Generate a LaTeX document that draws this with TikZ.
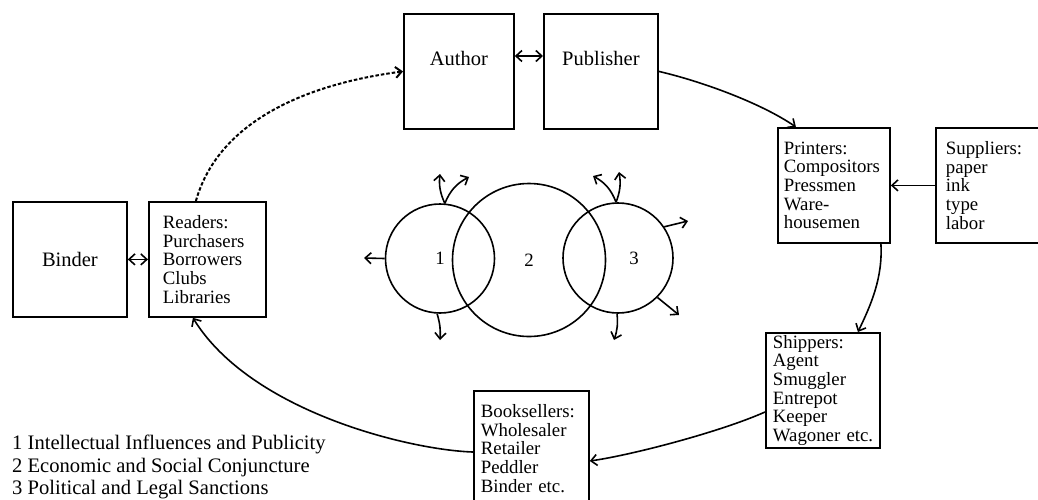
\documentclass[tikz,border=0pt]{standalone}
\usepackage{fontspec}
\setmainfont{Liberation Serif}
\usetikzlibrary{arrows.meta}
\begin{document}
\begin{tikzpicture}[x=1pt,y=-1pt,
  every node/.style={font=\fontsize{18.8}{18.7}\selectfont},
  box/.style={draw, line width=1.8pt, inner sep=0pt, minimum height=115pt, anchor=north west},
  titlebox/.style={box, text height=14pt, text depth=26pt, font=\fontsize{20.5}{24}\selectfont},
  listbox/.style={box, align=left},
  ring/.style={circle, draw, line width=1.6pt, inner sep=0pt},
  legendline/.style={anchor=base west, inner sep=0pt, font=\fontsize{20.6}{23}\selectfont},
  tip/.tip={Straight Barb[length=6pt,width=11pt]},
  conn/.style={line width=1.6pt, -tip},
  dbl/.style={line width=1.6pt, tip-tip},
  dots/.style={conn, line width=2pt, dash pattern=on 3.5pt off 2pt}
]
\useasboundingbox (0,0) rectangle (1038,499);
\clip (0,0) rectangle (1038,499);

% boxes
\node[titlebox, minimum width=110pt] (author) at (403,13) {Author};
\node[titlebox, minimum width=114pt] (publisher) at (543,13) {Publisher};
\node[box, minimum width=114pt, font=\fontsize{20.5}{24}\selectfont] (binder) at (12,201) {Binder};
\node[listbox, text width=89pt, inner xsep=14pt] (readers) at (148,201)
  {Readers:\\Purchasers\\Borrowers\\Clubs\\Libraries};
\node[listbox, text width=100pt, inner xsep=6pt] (printers) at (777,127)
  {Printers:\\Compositors\\Pressmen\\Ware-\\housemen};
\node[listbox, text width=92pt, inner xsep=10pt] (suppliers) at (935,127)
  {Suppliers:\\paper\\ink\\type\\labor};
\node[listbox, text width=100pt, inner xsep=7pt] (shippers) at (765,332)
  {Shippers:\\Agent\\Smuggler\\Entrepot\\Keeper\\Wagoner~etc.};
\node[listbox, text width=101pt, inner xsep=7pt] (booksellers) at (473,390)
  {Booksellers:\\Wholesaler\\Retailer\\Peddler\\Binder~etc.};

% circles
\node[ring, minimum size=109pt] (c1) at (440,258.5) {1};
\node[ring, minimum size=153pt] (c2) at (529,260) {2};
\node[ring, minimum size=110pt] (c3) at (618,258) {};
\node (l3) at (634,258) {3};

% legend
\node[legendline] (leg1) at (12,449.5) {1 Intellectual Influences and Publicity};
\node[legendline] (leg2) at (12,472) {2 Economic and Social Conjuncture};
\node[legendline] (leg3) at (12,494.5) {3 Political and Legal Sanctions};

% helper coordinates
\coordinate (ya) at (0,56);
\coordinate (y412) at (0,412);
\coordinate (y461) at (0,461);
\coordinate (y452) at (0,452);

% main cycle
\draw[dots] ([xshift=-11.5pt]readers.north) .. controls +(20,-71) and +(-113,15) .. (author.west);
\draw[dbl] (author.east |- ya) -- (publisher.west |- ya);
\draw[conn] (publisher.east) .. controls +(43,10) and +(-35,-24) .. ([xshift=-38pt]printers.north);
\draw[conn] (suppliers.west) -- (printers.east);
\draw[conn] ([xshift=47pt]printers.south) .. controls +(2,34) and +(13,-27) .. ([xshift=35pt]shippers.north);
\draw[conn] (shippers.west |- y412) .. controls +(-45,20) and +(42,-6) .. (booksellers.east |- y461);
\draw[conn] (booksellers.west |- y452) .. controls +(-63,-2) and +(58,94) .. ([xshift=-14.5pt]readers.south);
\draw[dbl] (binder.east) -- (readers.west);

% circle arrows
\coordinate (e1) at (364,258);
\coordinate (e2) at (440,174);
\coordinate (e3) at (469,177);
\coordinate (e4) at (440,340);
\draw[conn] (c1.180) -- (e1);
\draw[conn] (c1.85) to[bend left=15] (e2);
\draw[conn] (c1.85) to[bend left=20] (e3);
\draw[conn] (c1.267) to[bend left=10] (e4);

\coordinate (f1) at (619,172);
\coordinate (f2) at (593,176);
\coordinate (f3) at (688,221);
\coordinate (f4) at (679,315);
\coordinate (f5) at (614,340);
\draw[conn] (c3.92) to[bend right=15] (f1);
\draw[conn] (c3.92) to[bend right=20] (f2);
\draw[conn] (c3.34) -- (f3);
\draw[conn] (c3.315) -- (f4);
\draw[conn] (c3.269) to[bend left=12] (f5);
\end{tikzpicture}
\end{document}
